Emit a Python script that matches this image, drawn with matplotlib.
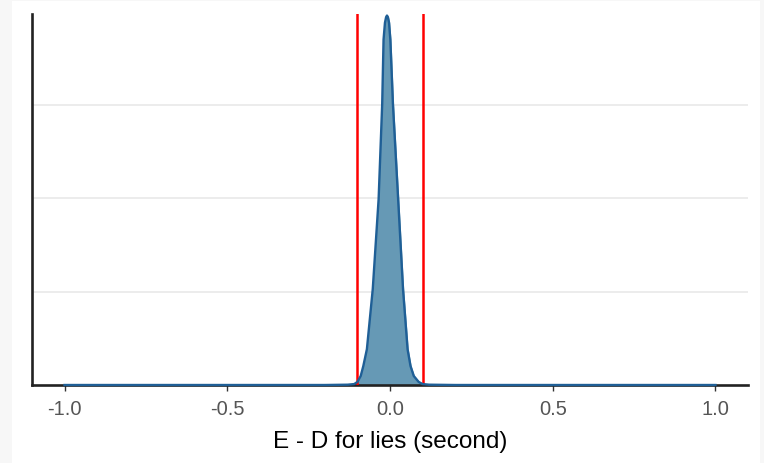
import matplotlib
matplotlib.use("Agg")
import matplotlib.pyplot as plt
from matplotlib.patches import Rectangle

plt.rcParams['font.family'] = ['Liberation Sans', 'DejaVu Sans']
plt.rcParams['axes.unicode_minus'] = False

# density curve (x in seconds, y in density units)
dens_x = [-1.0, -0.5, -0.2, -0.13, -0.11, -0.10, -0.09, -0.082, -0.071, -0.053,
          -0.035, -0.024, -0.0198, -0.0155, -0.012, -0.0093, -0.0065, -0.003,
          0.001, 0.009, 0.025, 0.040, 0.054, 0.063, 0.073, 0.088, 0.10, 0.12,
          0.2, 0.5, 1.0]
dens_y = [0.0, 0.0, 0.0, 0.01, 0.03, 0.10, 0.29, 0.61, 1.15, 3.08,
          5.97, 9.02, 11.1, 11.64, 11.82, 11.87, 11.82, 11.64,
          11.1, 9.02, 5.97, 3.08, 1.15, 0.61, 0.29, 0.10, 0.03, 0.01,
          0.0, 0.0, 0.0]

bounds = [-0.1, 0.1]
x_ticks = [-1.0, -0.5, 0.0, 0.5, 1.0]
x_labels = ['-1.0', '-0.5', '0.0', '0.5', '1.0']
grid_y = [3, 6, 9]

fig = plt.figure(figsize=(7.64, 4.64), dpi=100, facecolor='#f7f7f7')
bg = Rectangle((12 / 764, 0), 748 / 764, 462 / 464, transform=fig.transFigure,
               facecolor='white', edgecolor='none', zorder=-10)
fig.add_artist(bg)
ax = fig.add_axes([32 / 764, (464 - 386) / 464, (748 - 32) / 764, (386 - 15) / 464])
ax.set_zorder(5)
ax.set_facecolor('white')

for g in grid_y:
    ax.axhline(g, color='#ebebeb', lw=1.3, zorder=1)

ax.fill_between(dens_x, dens_y, 0, color='#6699b5', zorder=2)
ax.plot(dens_x, dens_y, color='#1f5f96', lw=1.7, zorder=4, clip_on=False,
        solid_joinstyle='round')

for b in bounds:
    ax.axvline(b, color='#ff0000', lw=1.8, zorder=3)

ax.set_xlim(-1.1, 1.1)
ax.set_ylim(0, 11.92)
ax.set_xticks(x_ticks)
ax.set_xticklabels(x_labels)
ax.set_yticks([])

for s in ['top', 'right']:
    ax.spines[s].set_visible(False)
for s in ['left', 'bottom']:
    ax.spines[s].set_color('#222222')
    ax.spines[s].set_linewidth(1.9)

ax.tick_params(axis='x', length=4, width=1.0, color='#333333',
               labelcolor='#555555', labelsize=14.5, pad=6)
ax.set_xlabel('E - D for lies (second)', fontsize=17.5, color='black', labelpad=9)

fig.savefig('out.png', dpi=100, facecolor=fig.get_facecolor())
